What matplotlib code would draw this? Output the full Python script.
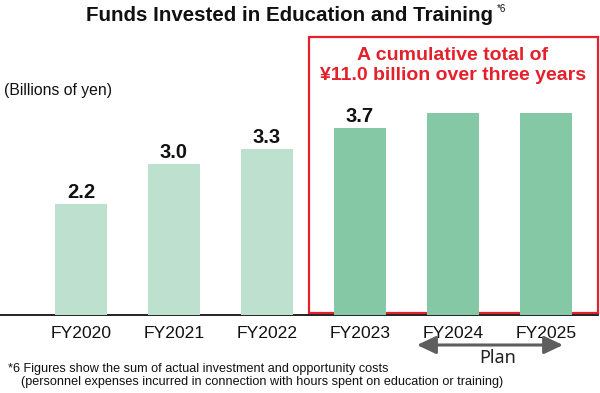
import matplotlib.pyplot as plt
from matplotlib.patches import Rectangle

years = ['FY2020', 'FY2021', 'FY2022', 'FY2023', 'FY2024', 'FY2025']
values = [2.2, 3.0, 3.3, 3.7, 4.0, 4.0]
value_labels = ['2.2', '3.0', '3.3', '3.7', '', '']
planned = [False, False, False, True, True, True]

light = '#BDE0CF'
dark = '#85C8A6'
red = '#E4202A'

plt.rcParams['font.family'] = ['Liberation Sans', 'DejaVu Sans']

W, H = 600, 393
fig = plt.figure(figsize=(W / 100, H / 100), dpi=100)

# axes placed so bars land where they are in the original
base_px = 315
top_px = 30
px_per_unit = 50.45
ax = fig.add_axes([0, (H - base_px) / H, 598 / W, (base_px - top_px) / H])
ax.set_xlim(-81 / 93, (598 - 81) / 93)
ax.set_ylim(0, (base_px - top_px) / px_per_unit)

x = list(range(len(years)))
colors = [dark if p else light for p in planned]
ax.bar(x, values, width=0.56, color=colors, zorder=3)

for xi, v, lab in zip(x, values, value_labels):
    if lab:
        ax.text(xi, v + 6 / px_per_unit, lab, ha='center', va='baseline',
                fontsize=14.5, fontweight='bold', color='#111111')

ax.set_xticks(x)
ax.set_xticklabels(years, fontsize=12.6, color='#111111')
ax.tick_params(axis='x', length=0, pad=8)
ax.set_yticks([])
for s in ['top', 'right', 'left']:
    ax.spines[s].set_visible(False)
ax.spines['bottom'].set_linewidth(1.3)
ax.spines['bottom'].set_color('#111111')
ax.patch.set_alpha(0)


def fx(px):
    return px / W


def fy(py):
    return 1 - py / H


# red box round the three-year plan
box = Rectangle((fx(308.5), fy(312.5)), (597.5 - 308.5) / W, (312.5 - 36.5) / H,
                transform=fig.transFigure, fill=False, ec=red, lw=1.6,
                clip_on=False, zorder=1)
ax.add_patch(box)
fig.text(fx(453), fy(59.5), 'A cumulative total of', ha='center', va='baseline',
         fontsize=14, fontweight='bold', color=red)
fig.text(fx(453), fy(79.5), '¥11.0 billion over three years', ha='center',
         va='baseline', fontsize=14, fontweight='bold', color=red)

fig.text(fx(290), fy(21), 'Funds Invested in Education and Training', ha='center',
         va='baseline', fontsize=14.8, fontweight='bold', color='#111111')
fig.text(fx(497), fy(4), '*6', ha='left', va='top', fontsize=7, color='#111111')

fig.text(fx(4), fy(95), '(Billions of yen)', ha='left', va='baseline',
         fontsize=11.3, color='#111111')

# plan arrow
ax.annotate('', xy=(563, H - 345), xytext=(417, H - 345), xycoords='figure pixels',
            textcoords='figure pixels',
            arrowprops=dict(arrowstyle='<|-|>,head_length=0.95,head_width=0.45',
                            mutation_scale=12, lw=2.2, color='#5E5E5E',
                            shrinkA=0, shrinkB=0))
fig.text(fx(498), fy(363), 'Plan', ha='center', va='baseline', fontsize=13,
         color='#222222', family=['Noto Sans', 'DejaVu Sans'])

fig.text(fx(8), fy(372), '*6 Figures show the sum of actual investment and opportunity costs',
         ha='left', va='baseline', fontsize=9.1, color='#111111')
fig.text(fx(21), fy(385), '(personnel expenses incurred in connection with hours spent on education or training)',
         ha='left', va='baseline', fontsize=9.1, color='#111111')

fig.savefig('out.png', dpi=100)
